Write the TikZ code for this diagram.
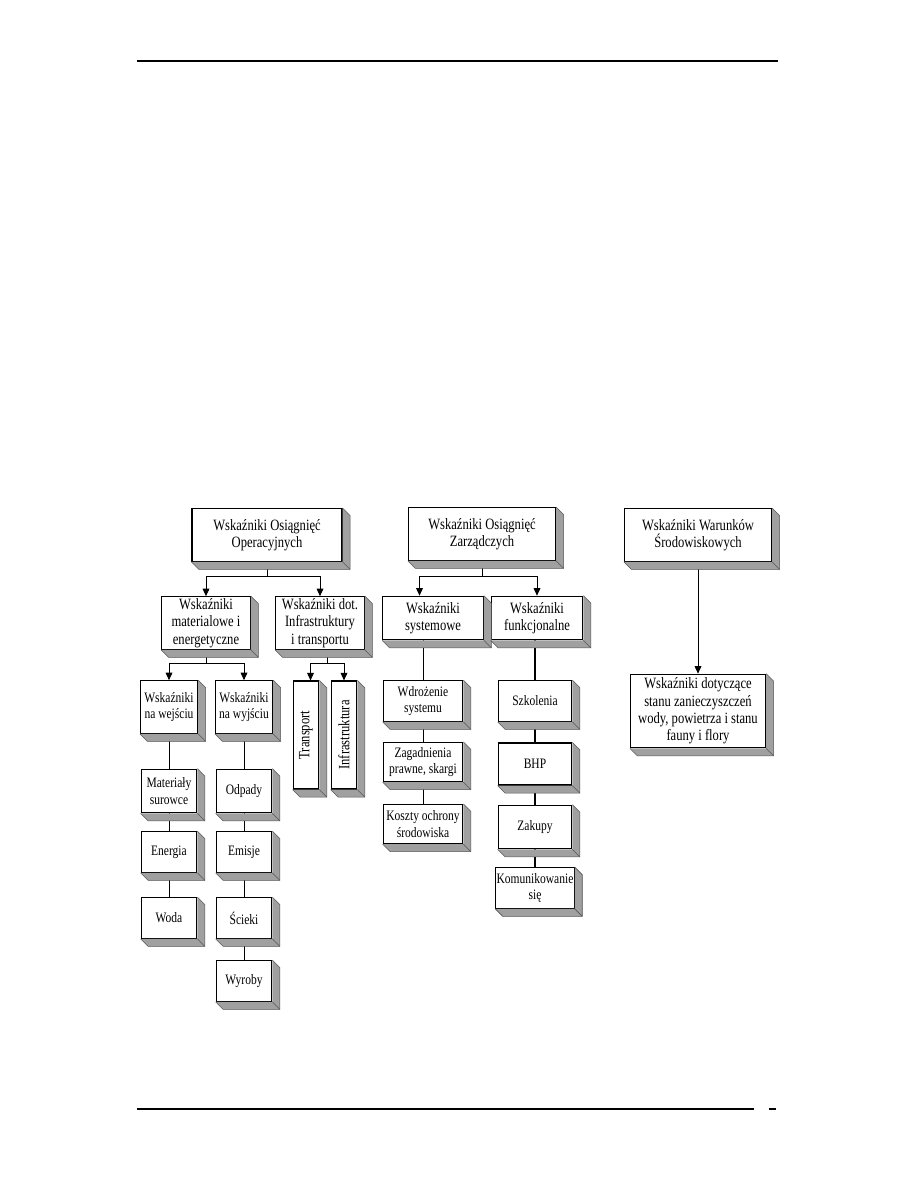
\documentclass[tikz,border=0pt]{standalone}
\usepackage{fontspec}
\setmainfont{Liberation Serif}[FakeStretch=0.8]
\usetikzlibrary{arrows.meta, calc}
\definecolor{shadefill}{RGB}{160,160,160}
\definecolor{shadeedge}{RGB}{85,85,85}
\newcommand{\boxshade}[1]{%
  \fill[shadefill] (#1.north east) -- ++(5pt,-5pt) -- ($(#1.south east)+(5pt,-5pt)$) -- ($(#1.south west)+(5pt,-5pt)$) -- (#1.south west) -- (#1.south east) -- cycle;
  \draw[shadeedge, line width=0.4pt] (#1.north east) -- ++(5pt,-5pt) -- ($(#1.south east)+(5pt,-5pt)$) -- ($(#1.south west)+(5pt,-5pt)$) -- (#1.south west);
  \draw[shadeedge, line width=0.4pt] (#1.south east) -- ++(5pt,-5pt);}

\begin{document}
\begin{tikzpicture}[x=0.6667pt, y=-0.6667pt,
    box/.style={rectangle, draw, fill=white, line width=0.8pt, align=center, inner sep=1pt, font=\fontsize{10.5}{11.6}\selectfont},
    sbox/.style={box, font=\fontsize{9.6}{10.8}\selectfont},
    arr/.style={-{Triangle[length=5pt, width=4.5pt]}, line width=0.6pt},
    link/.style={line width=0.6pt}
]
\useasboundingbox (0,0) rectangle (918,1188);

\coordinate (headl) at (137,61);
\coordinate (headr) at (778,61);
\coordinate (footl) at (137,1109);
\coordinate (footr) at (754,1109);
\coordinate (dashl) at (769,1109);
\coordinate (dashr) at (776,1109);
\draw[line width=1pt] (headl) -- (headr);
\draw[line width=0.8pt] (footl) -- (footr);
\draw[line width=0.8pt] (dashl) -- (dashr);

\node[box, minimum width=100pt, minimum height=35pt] (oper) at (267,535) {Wskaźniki Osiągnięć\\Operacyjnych};
\node[box, minimum width=98pt, minimum height=35pt] (zarz) at (482,534) {Wskaźniki Osiągnięć\\Zarządczych};
\node[box, minimum width=98pt, minimum height=35pt] (warun) at (698,535) {Wskaźniki Warunków\\Środowiskowych};

\node[box, minimum width=59pt, minimum height=35pt] (mater) at (206,623) {Wskaźniki\\materialowe i\\energetyczne};
\node[box, minimum width=59pt, minimum height=35pt] (infra) at (320,623) {Wskaźniki dot.\\Infrastruktury\\i transportu};
\node[box, minimum width=67pt, minimum height=29pt] (syst) at (433,618) {Wskaźniki\\systemowe};
\node[box, minimum width=61pt, minimum height=29pt] (funk) at (537,618) {Wskaźniki\\funkcjonalne};
\node[box, minimum width=90pt, minimum height=49pt] (stan) at (698,711) {Wskaźniki dotyczące\\stanu zanieczyszczeń\\wody, powietrza i stanu\\fauny i flory};

\node[sbox, minimum width=38pt, minimum height=35pt] (wej) at (169,707) {Wskaźniki\\na wejściu};
\node[sbox, minimum width=38pt, minimum height=35pt] (wyj) at (244,707) {Wskaźniki\\na wyjściu};
\node[box, minimum width=17pt, minimum height=72pt] (transp) at (306,735) {\rotatebox{90}{Transport}};
\node[box, minimum width=17pt, minimum height=72pt] (infr) at (344,735) {\rotatebox{90}{Infrastruktura}};

\node[sbox, minimum width=37pt, minimum height=29pt] (surow) at (169,791) {Materiały\\surowce};
\node[sbox, minimum width=37pt, minimum height=27pt] (energ) at (169,852) {Energia};
\node[sbox, minimum width=37pt, minimum height=27pt] (woda) at (169,918) {Woda};
\node[sbox, minimum width=37pt, minimum height=29pt] (odpad) at (244,791) {Odpady};
\node[sbox, minimum width=37pt, minimum height=27pt] (emis) at (244,852) {Emisje};
\node[sbox, minimum width=37pt, minimum height=27pt] (sciek) at (244,918) {Ścieki};
\node[sbox, minimum width=37pt, minimum height=27pt] (wyrob) at (244,981) {Wyroby};

\node[sbox, minimum width=53pt, minimum height=27pt] (wdroz) at (423,701) {Wdrożenie\\systemu};
\node[sbox, minimum width=53pt, minimum height=26pt] (zagad) at (423,762) {Zagadnienia\\prawne, skargi};
\node[sbox, minimum width=53pt, minimum height=26pt] (koszt) at (423,824) {Koszty ochrony\\środowiska};
\node[sbox, minimum width=49pt, minimum height=27pt] (szkol) at (535,701) {Szkolenia};
\node[sbox, minimum width=49pt, minimum height=28pt] (bhp) at (535,764) {BHP};
\node[sbox, minimum width=49pt, minimum height=29pt] (zakup) at (535,827) {Zakupy};
\node[sbox, minimum width=49pt, minimum height=27pt, inner sep=0.5pt] (komun) at (535,888) {Komunikowanie\\się};

\draw[arr] (oper.south) -- ++(0,15) -| (mater.north);
\draw[arr] (oper.south) -- ++(0,15) -| (infra.north);
\draw[arr] (zarz.south) -- ++(0,16) -| ([xshift=-9pt]syst.north);
\draw[arr] (zarz.south) -- ++(0,16) -| (funk.north);
\draw[arr] (warun) -- (stan);
\draw[arr] (mater.south) -- ++(0,14) -| (wej.north);
\draw[arr] (mater.south) -- ++(0,14) -| (wyj.north);
\draw[arr] ([xshift=5pt]infra.south) -- ++(0,14) -| ([xshift=3pt]transp.north);
\draw[arr] ([xshift=5pt]infra.south) -- ++(0,14) -| (infr.north);

\draw[link] (wej) -- (surow) -- (energ) -- (woda);
\draw[link] (wyj) -- (odpad) -- (emis) -- (sciek) -- (wyrob);
\draw[link] (syst.south -| wdroz) -- (wdroz) -- (zagad) -- (koszt);
\draw[link, line width=1.1pt] (funk.south -| szkol) -- (szkol) -- (bhp) -- (zakup) -- (komun);

\foreach \n in {oper,zarz,warun,mater,infra,syst,funk,stan,wej,wyj,transp,infr,surow,energ,woda,odpad,emis,sciek,wyrob,wdroz,zagad,koszt,szkol,bhp,zakup,komun}
  {\boxshade{\n}}
\end{tikzpicture}
\end{document}
